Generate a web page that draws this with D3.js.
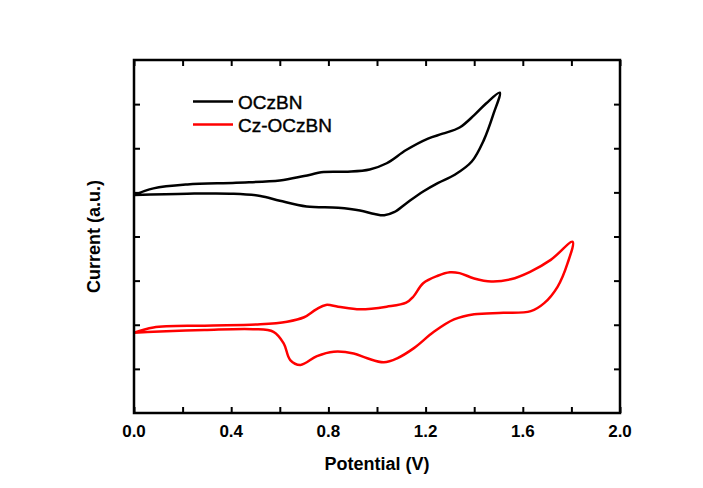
<!DOCTYPE html>
<html>
<head>
<meta charset="utf-8">
<script src="https://cdn.jsdelivr.net/npm/d3@7"></script>
<style>
  body { margin: 0; background: #fff; }
  text { font-family: Arial, "Liberation Sans", sans-serif; fill: #000; }
</style>
</head>
<body>
<svg id="chart" width="703" height="488"></svg>
<script>
// potential (V) and current (a.u.)
var ocz_potential = [0.00, 0.08, 0.22, 0.42, 0.60, 0.70, 0.78, 0.88, 0.97, 1.04, 1.12, 1.21, 1.27, 1.34, 1.40, 1.45, 1.505,
                     1.48, 1.44, 1.39, 1.32, 1.25, 1.19, 1.12, 1.07, 1.03, 0.99, 0.93, 0.84, 0.71, 0.60, 0.52, 0.41, 0.22, 0.00];
var ocz_current   = [4.94, 5.09, 5.18, 5.22, 5.27, 5.37, 5.46, 5.47, 5.52, 5.66, 5.96, 6.22, 6.33, 6.47, 6.75, 7.02, 7.26,
                     6.79, 6.19, 5.70, 5.40, 5.21, 5.02, 4.75, 4.55, 4.48, 4.51, 4.59, 4.65, 4.68, 4.81, 4.92, 4.97, 4.97, 4.94];

var czocz_potential = [0.00, 0.08, 0.29, 0.52, 0.63, 0.70, 0.75, 0.79, 0.84, 0.93, 1.04, 1.12, 1.15, 1.19, 1.25, 1.30, 1.34, 1.40, 1.47, 1.55, 1.63, 1.715, 1.805,
                       1.784, 1.743, 1.688, 1.633, 1.52, 1.40, 1.317, 1.234, 1.152, 1.083, 1.028, 0.96, 0.904, 0.822, 0.753, 0.685, 0.643, 0.616, 0.574, 0.49, 0.29, 0.08, 0.00];
var czocz_current   = [1.82, 1.94, 1.98, 2.01, 2.07, 2.17, 2.35, 2.45, 2.41, 2.35, 2.41, 2.50, 2.64, 2.94, 3.11, 3.19, 3.17, 3.05, 2.98, 3.03, 3.20, 3.47, 3.88,
                       3.39, 2.86, 2.49, 2.31, 2.27, 2.24, 2.12, 1.84, 1.47, 1.24, 1.15, 1.24, 1.35, 1.39, 1.29, 1.09, 1.20, 1.58, 1.84, 1.90, 1.88, 1.84, 1.82];

var series_names  = ["OCzBN", "Cz-OCzBN"];
var series_colors = ["#000000", "#ff0000"];

var x_ticks = [0.0, 0.2, 0.4, 0.6, 0.8, 1.0, 1.2, 1.4, 1.6, 1.8, 2.0];
var x_labels = [0.0, 0.4, 0.8, 1.2, 1.6, 2.0];
var y_ticks = [1, 2, 3, 4, 5, 6, 7];

var margin = { left: 134, right: 83, top: 60, bottom: 75 };
var width = 703 - margin.left - margin.right;
var height = 488 - margin.top - margin.bottom;

var svg = d3.select("#chart");
var g = svg.append("g")
    .attr("transform", "translate(" + margin.left + "," + margin.top + ")");

var x = d3.scaleLinear().domain([0, 2.0]).range([0, width]);
var y = d3.scaleLinear().domain([0, 8]).range([height, 0]);

// ticks, inward on all four sides
var tickLen = 6;
g.append("g").call(d3.axisBottom(x).tickValues(x_ticks).tickSize(-tickLen).tickFormat(""))
    .attr("transform", "translate(0," + height + ")");
g.append("g").call(d3.axisTop(x).tickValues(x_ticks).tickSize(-tickLen).tickFormat(""));
g.append("g").call(d3.axisLeft(y).tickValues(y_ticks).tickSize(-tickLen).tickFormat(""));
g.append("g").call(d3.axisRight(y).tickValues(y_ticks).tickSize(-tickLen).tickFormat(""))
    .attr("transform", "translate(" + width + ",0)");
g.selectAll(".domain").remove();
g.selectAll(".tick line").attr("stroke", "#000").attr("stroke-width", 2);

// x tick labels
g.selectAll(".xlabel")
  .data(x_labels)
  .enter().append("text")
    .attr("x", function(d){ return x(d); })
    .attr("y", height + 24)
    .attr("text-anchor", "middle")
    .attr("font-size", "17px")
    .attr("font-weight", "bold")
    .text(function(d){ return d.toFixed(1); });

// curves
var line = d3.line()
    .x(function(d){ return x(d[0]); })
    .y(function(d){ return y(d[1]); })
    .curve(d3.curveCatmullRom.alpha(0.5));

var curves = [
  d3.zip(ocz_potential, ocz_current),
  d3.zip(czocz_potential, czocz_current)
];

g.selectAll(".cv")
  .data(curves)
  .enter().append("path")
    .attr("fill", "none")
    .attr("stroke", function(d, i){ return series_colors[i]; })
    .attr("stroke-width", 2.5)
    .attr("stroke-linejoin", "round")
    .attr("d", line);

// frame
g.append("rect")
    .attr("width", width).attr("height", height)
    .attr("fill", "none").attr("stroke", "#000").attr("stroke-width", 2.5);

// legend
var legend = g.selectAll(".legend")
  .data(series_names)
  .enter().append("g")
    .attr("transform", function(d, i){ return "translate(59," + (41.5 + i * 23) + ")"; });
legend.append("line")
    .attr("x1", 0).attr("x2", 40)
    .attr("stroke", function(d, i){ return series_colors[i]; })
    .attr("stroke-width", 2.5);
legend.append("text")
    .attr("x", 45).attr("y", 7)
    .attr("font-size", "19px")
    .attr("stroke", "#000")
    .attr("stroke-width", 0.4)
    .text(function(d){ return d; });

// axis titles
g.append("text")
    .attr("x", width / 2)
    .attr("y", height + 57)
    .attr("text-anchor", "middle")
    .attr("font-size", "18px")
    .attr("font-weight", "bold")
    .text("Potential (V)");

g.append("text")
    .attr("transform", "rotate(-90)")
    .attr("x", -height / 2)
    .attr("y", -34)
    .attr("text-anchor", "middle")
    .attr("font-size", "18px")
    .attr("font-weight", "bold")
    .text("Current (a.u.)");
</script>
</body>
</html>
